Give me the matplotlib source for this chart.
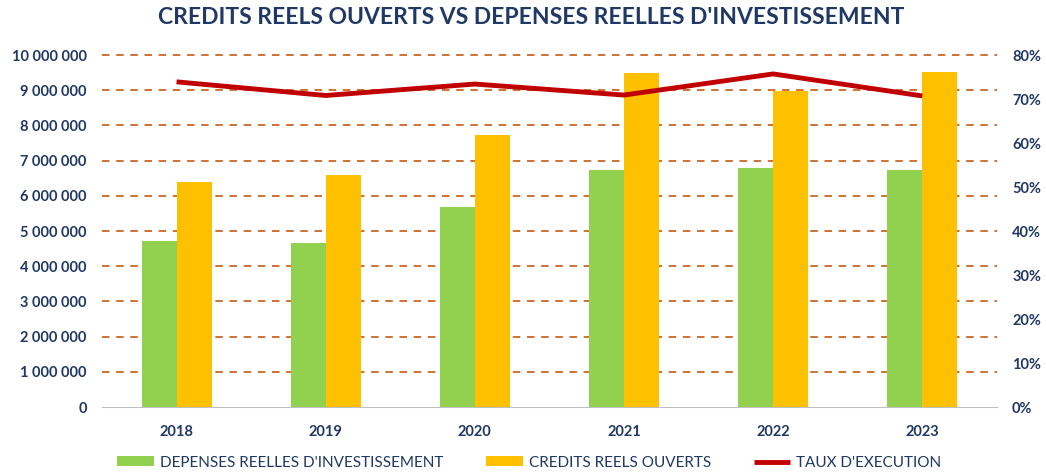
import matplotlib
matplotlib.use("Agg")
import matplotlib.pyplot as plt
import numpy as np
from matplotlib.ticker import FuncFormatter, MultipleLocator

years = ["2018", "2019", "2020", "2021", "2022", "2023"]
depenses = [4720000, 4660000, 5680000, 6730000, 6790000, 6730000]
credits = [6390000, 6590000, 7730000, 9490000, 8980000, 9520000]
taux = [0.739, 0.708, 0.734, 0.709, 0.757, 0.707]

NAVY = "#1F3864"
GREEN = "#92D050"
YELLOW = "#FFC000"
RED = "#C00000"
GRID = "#C55A11"

plt.rcParams['font.family'] = ['Lato', 'DejaVu Sans']

fig = plt.figure(figsize=(10.46, 4.73), dpi=100)
ax = fig.add_axes([0.0975, 0.1395, 0.8555, 0.7442])
x = np.arange(len(years))
w = 0.235
ax.bar(x - w/2, depenses, w, color=GREEN, label="DEPENSES REELLES D'INVESTISSEMENT", zorder=3)
ax.bar(x + w/2, credits, w, color=YELLOW, label="CREDITS REELS OUVERTS", zorder=3)
ax.set_xlim(-0.5, len(years) - 0.5)
ax.set_ylim(0, 10000000)
ax.yaxis.set_major_locator(MultipleLocator(1000000))
ax.yaxis.set_major_formatter(FuncFormatter(lambda v, p: f"{int(v):,}".replace(",", " ")))
ax.set_xticks(x)
ax.set_xticklabels(years)
for v in range(1000000, 10000001, 1000000):
    ax.axhline(v, color=GRID, linestyle=(0, (4.5, 4)), linewidth=1.2, zorder=0, clip_on=False)
for s in ['top', 'right', 'left']:
    ax.spines[s].set_visible(False)
ax.spines['bottom'].set_color('#BFBFBF')
ax.spines['bottom'].set_zorder(4)
ax.tick_params(axis='both', length=0, colors=NAVY, labelsize=10.5)
ax.tick_params(axis='y', pad=11)
ax.tick_params(axis='x', pad=13)
for lab in ax.get_xticklabels() + ax.get_yticklabels():
    lab.set_fontweight('bold')

ax2 = ax.twinx()
ax2.plot(x, taux, color=RED, linewidth=3.5, label="TAUX D'EXECUTION", zorder=5, solid_capstyle='butt')
ax2.set_ylim(0, 0.8)
ax2.yaxis.set_major_locator(MultipleLocator(0.1))
ax2.yaxis.set_major_formatter(FuncFormatter(lambda v, p: f"{v*100:.0f}%"))
for s in ['top', 'right', 'left', 'bottom']:
    ax2.spines[s].set_visible(False)
ax2.tick_params(axis='y', length=0, colors=NAVY, labelsize=10.5, pad=11)
for lab in ax2.get_yticklabels():
    lab.set_fontweight('bold')

fig.suptitle("CREDITS REELS OUVERTS VS DEPENSES REELLES D'INVESTISSEMENT",
             x=0.508, y=0.985, fontsize=16.5, fontweight='bold', color=NAVY)

h1, l1 = ax.get_legend_handles_labels()
h2, l2 = ax2.get_legend_handles_labels()
leg = fig.legend(h1 + h2, l1 + l2, loc='lower center', bbox_to_anchor=(0.506, -0.022), ncol=3,
                 frameon=False, fontsize=11, handlelength=2.4, handleheight=0.6,
                 columnspacing=2.8, handletextpad=0.4)
for t in leg.get_texts():
    t.set_color(NAVY)

fig.savefig("out.png", dpi=100, facecolor='white')
